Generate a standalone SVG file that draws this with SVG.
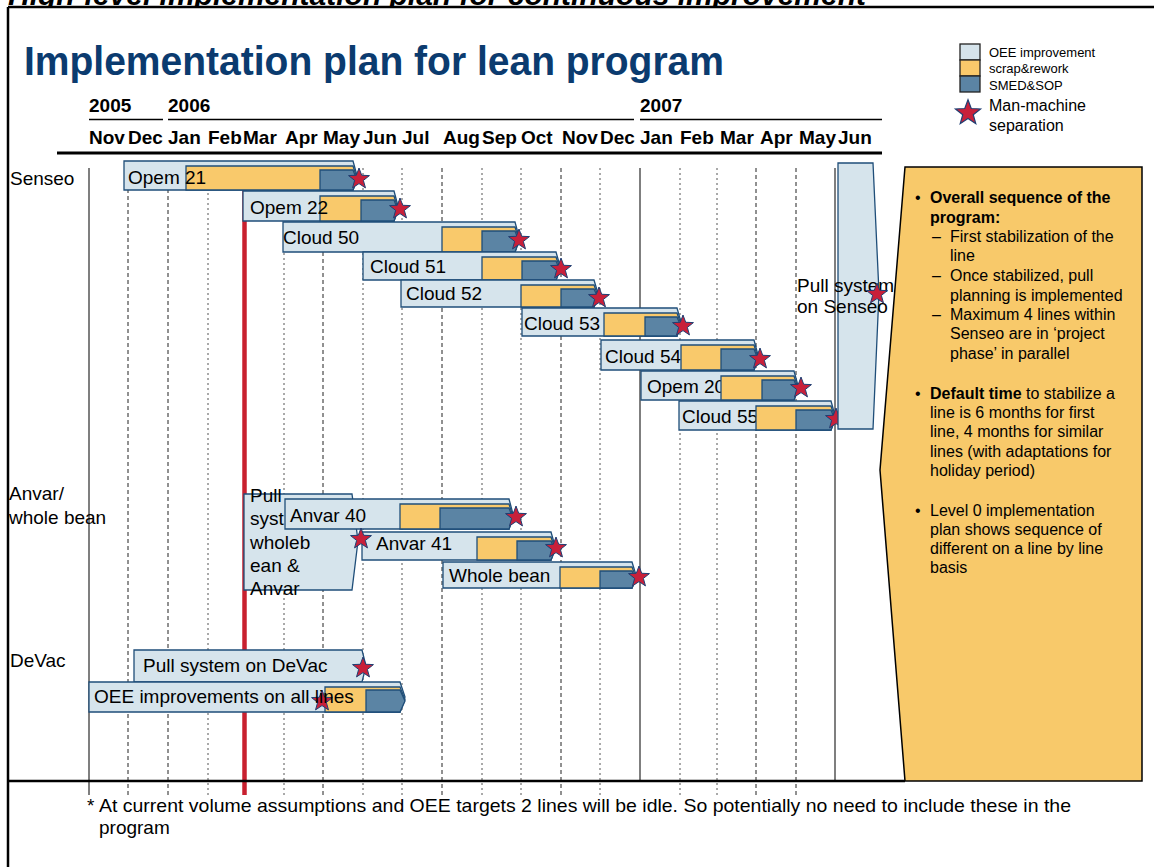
<svg xmlns="http://www.w3.org/2000/svg" xmlns:xlink="http://www.w3.org/1999/xlink" width="1154" height="867" viewBox="0 0 1154 867">
<style>
text{font-family:"Liberation Sans",Arial,sans-serif;fill:#000}
.lb{fill:#d6e4ec;stroke:#1f4e79;stroke-width:1.3}
.yl{fill:#f9c96b;stroke:#1f4e79;stroke-width:1.3}
.bl{fill:#5b84a4;stroke:#1f4e79;stroke-width:1.3}
.lbl{font-size:19px}
.hdr{font-size:19px;font-weight:bold}
.g1{stroke:#555;stroke-width:1;stroke-dasharray:2 3}
.g2{stroke:#222;stroke-width:1;stroke-dasharray:4 3}
.sol{stroke:#555;stroke-width:1.5}
.box{font-size:16px}
</style>
<defs>
<path id="star" d="M0,-11 L2.7,-3.72 L10.46,-3.4 L4.37,1.42 L6.47,8.9 L0,4.6 L-6.47,8.9 L-4.37,1.42 L-10.46,-3.4 L-2.7,-3.72 Z" fill="#c8203a" stroke="#1f3f73" stroke-width="1"/>
</defs>
<rect width="1154" height="867" fill="#fff"/>
<text x="8" y="5" font-size="30" font-weight="bold" font-style="italic" textLength="858" lengthAdjust="spacingAndGlyphs">High-level implementation plan for continuous improvement</text>
<rect x="8" y="7" width="1146" height="860" fill="#fff"/>
<g id="frame" fill="none" stroke="#000" stroke-width="2.5">
<line x1="8" y1="7" x2="1154" y2="7"/>
<line x1="8" y1="7" x2="8" y2="867"/>
</g>
<g id="title">
<text x="24" y="75" font-size="40" font-weight="bold" style="fill:#0b3b6f" textLength="700" lengthAdjust="spacingAndGlyphs">Implementation plan for lean program</text>
</g>
<g id="legend">
<rect x="960" y="44" width="20" height="16" class="lb" style="stroke:#222"/>
<rect x="960" y="60" width="20" height="16" class="yl" style="stroke:#222"/>
<rect x="960" y="76" width="20" height="16" class="bl" style="stroke:#222"/>
<text x="989" y="57" font-size="13">OEE improvement</text>
<text x="989" y="73" font-size="13">scrap&amp;rework</text>
<text x="989" y="90" font-size="13">SMED&amp;SOP</text>
<use xlink:href="#star" transform="translate(968,113) scale(1.2)"/>
<text x="989" y="111" font-size="16">Man-machine</text>
<text x="989" y="131" font-size="16">separation</text>
</g>
<g id="timeline-header">
<text x="89" y="112" class="hdr">2005</text>
<text x="168" y="112" class="hdr">2006</text>
<text x="640" y="112" class="hdr">2007</text>
<line x1="89" y1="119.5" x2="163" y2="119.5" stroke="#000" stroke-width="1.5"/>
<line x1="168" y1="119.5" x2="634" y2="119.5" stroke="#000" stroke-width="1.5"/>
<line x1="640" y1="119.5" x2="882" y2="119.5" stroke="#000" stroke-width="1.5"/>
<text y="144" class="hdr"><tspan x="89">Nov</tspan><tspan x="128">Dec</tspan><tspan x="168">Jan</tspan><tspan x="208">Feb</tspan><tspan x="243">Mar</tspan><tspan x="285">Apr</tspan><tspan x="323">May</tspan><tspan x="363">Jun</tspan><tspan x="402">Jul</tspan><tspan x="443">Aug</tspan><tspan x="482">Sep</tspan><tspan x="521">Oct</tspan><tspan x="562">Nov</tspan><tspan x="600">Dec</tspan><tspan x="640">Jan</tspan><tspan x="680">Feb</tspan><tspan x="720">Mar</tspan><tspan x="760">Apr</tspan><tspan x="799">May</tspan><tspan x="838">Jun</tspan></text>
<line x1="57" y1="153" x2="882" y2="153" stroke="#000" stroke-width="3"/>
</g>
<g id="grid">
<line x1="89" y1="168" x2="89" y2="795" class="sol"/>
<line x1="128" y1="168" x2="128" y2="795" class="g2"/>
<line x1="168" y1="168" x2="168" y2="795" class="g2"/>
<line x1="208" y1="168" x2="208" y2="795" class="g1"/>
<line x1="284" y1="168" x2="284" y2="795" class="g1"/>
<line x1="323" y1="168" x2="323" y2="795" class="g2"/>
<line x1="363" y1="168" x2="363" y2="795" class="g1"/>
<line x1="402" y1="168" x2="402" y2="795" class="g1"/>
<line x1="442" y1="168" x2="442" y2="795" class="g2"/>
<line x1="482" y1="168" x2="482" y2="795" class="g1"/>
<line x1="521" y1="168" x2="521" y2="795" class="g1"/>
<line x1="561" y1="168" x2="561" y2="795" class="g2"/>
<line x1="600" y1="168" x2="600" y2="795" class="g1"/>
<line x1="640" y1="168" x2="640" y2="781" class="sol"/>
<line x1="680" y1="168" x2="680" y2="795" class="g1"/>
<line x1="717" y1="168" x2="717" y2="795" class="g1"/>
<line x1="756" y1="168" x2="756" y2="795" class="g2"/>
<line x1="796" y1="168" x2="796" y2="795" class="g2"/>
<line x1="835" y1="168" x2="835" y2="781" class="sol"/>
<line x1="244.5" y1="170" x2="244.5" y2="795" stroke="#c8202f" stroke-width="4.5"/>
<line x1="8" y1="781" x2="905" y2="781" stroke="#000" stroke-width="2.5"/>
</g>
<g id="connectors"></g>
<g id="row-labels">
<text x="10" y="185" class="lbl">Senseo</text>
<text x="9" y="500" class="lbl">Anvar/</text>
<text x="9" y="524" class="lbl">whole bean</text>
<text x="10" y="667" class="lbl">DeVac</text>
</g>
<g id="opem21">
<polygon class="lb" points="124,161 353,161 357,175.5 353,190 124,190"/>
<polygon class="yl" points="186,166 353,166 357,178 353,190 186,190"/>
<polygon class="bl" points="320,170 353,170 357,180 353,190 320,190"/>
<text x="128" y="184" class="lbl">Opem 21</text>
<use xlink:href="#star" x="359" y="179"/>
</g>
<g id="opem22">
<polygon class="lb" points="243,191 394,191 398,206 394,221 243,221"/>
<polygon class="yl" points="320,196 394,196 398,208.5 394,221 320,221"/>
<polygon class="bl" points="361,200 394,200 398,210.5 394,221 361,221"/>
<text x="250" y="214" class="lbl">Opem 22</text>
<use xlink:href="#star" x="400" y="209"/>
</g>
<g id="cloud50">
<polygon class="lb" points="283,222 515,222 519,237 515,252 283,252"/>
<polygon class="yl" points="442,227 515,227 519,239.5 515,252 442,252"/>
<polygon class="bl" points="482,231 515,231 519,241.5 515,252 482,252"/>
<text x="283" y="244" class="lbl">Cloud 50</text>
<use xlink:href="#star" x="519" y="240"/>
</g>
<g id="cloud51">
<polygon class="lb" points="363,252 556,252 560,266 556,280 363,280"/>
<polygon class="yl" points="482,257 556,257 560,268.5 556,280 482,280"/>
<polygon class="bl" points="522,261 556,261 560,270.5 556,280 522,280"/>
<text x="370" y="273" class="lbl">Cloud 51</text>
<use xlink:href="#star" x="561" y="269"/>
</g>
<g id="cloud52">
<polygon class="lb" points="401,280 594,280 598,293.5 594,307 401,307"/>
<polygon class="yl" points="521,285 594,285 598,296 594,307 521,307"/>
<polygon class="bl" points="561,289 594,289 598,298 594,307 561,307"/>
<text x="406" y="300" class="lbl">Cloud 52</text>
<use xlink:href="#star" x="599" y="298"/>
</g>
<g id="cloud53">
<polygon class="lb" points="522,308 677,308 681,322 677,336 522,336"/>
<text x="524" y="330" class="lbl">Cloud 53</text>
<polygon class="yl" points="604,313 677,313 681,324.5 677,336 604,336"/>
<polygon class="bl" points="645,317 677,317 681,326.5 677,336 645,336"/>
<use xlink:href="#star" x="683" y="326"/>
</g>
<g id="cloud54">
<polygon class="lb" points="601,340 754,340 758,355 754,370 601,370"/>
<text x="605" y="363" class="lbl">Cloud 54</text>
<polygon class="yl" points="681,345 754,345 758,357.5 754,370 681,370"/>
<polygon class="bl" points="721,349 754,349 758,359.5 754,370 721,370"/>
<use xlink:href="#star" x="760" y="359"/>
</g>
<g id="opem20">
<polygon class="lb" points="641,371 794,371 798,385.5 794,400 641,400"/>
<text x="647" y="393" class="lbl">Opem 20</text>
<polygon class="yl" points="721,376 794,376 798,388 794,400 721,400"/>
<polygon class="bl" points="762,380 794,380 798,390 794,400 762,400"/>
<use xlink:href="#star" x="801" y="388"/>
</g>
<g id="cloud55">
<polygon class="lb" points="679,401 831,401 835,415.5 831,430 679,430"/>
<text x="682" y="423" class="lbl">Cloud 55</text>
<polygon class="yl" points="756,406 831,406 835,418 831,430 756,430"/>
<polygon class="bl" points="796,410 831,410 835,420 831,430 796,430"/>
<use xlink:href="#star" x="836" y="419"/>
</g>
<g id="pull-senseo">
<polygon class="lb" points="838,163 873,163 879,293 873,429 838,429"/>
<text x="797" y="292" class="lbl">Pull system</text>
<text x="797" y="313" class="lbl">on Senseo</text>
<use xlink:href="#star" x="877" y="294"/>
</g>
<g id="pull-wholebean">
<polygon class="lb" points="244,494 352,494 358,541 352,590 244,590"/>
<text x="250" class="lbl"><tspan x="250" y="502">Pull</tspan><tspan x="250" y="525">syst</tspan><tspan x="250" y="549">wholeb</tspan><tspan x="250" y="572">ean &amp;</tspan><tspan x="250" y="595">Anvar</tspan></text>
</g>
<g id="anvar40">
<polygon class="lb" points="285,499 509,499 513,514 509,529 285,529"/>
<polygon class="yl" points="400,504 509,504 513,516.5 509,529 400,529"/>
<polygon class="bl" points="440,508 509,508 513,518.5 509,529 440,529"/>
<text x="290" y="522" class="lbl">Anvar 40</text>
<use xlink:href="#star" x="516" y="517"/>
</g>
<g id="anvar41">
<polygon class="lb" points="362,532 551,532 555,546 551,560 362,560"/>
<polygon class="yl" points="477,537 551,537 555,548.5 551,560 477,560"/>
<polygon class="bl" points="517,541 551,541 555,550.5 551,560 517,560"/>
<text x="376" y="550" class="lbl">Anvar 41</text>
<use xlink:href="#star" x="556" y="548"/>
</g>
<g id="wholebean">
<polygon class="lb" points="443,562 632,562 636,575 632,588 443,588"/>
<polygon class="yl" points="560,567 632,567 636,577.5 632,588 560,588"/>
<polygon class="bl" points="600,571 632,571 636,579.5 632,588 600,588"/>
<text x="449" y="582" class="lbl">Whole bean</text>
<use xlink:href="#star" x="639" y="577"/>
</g>
<use xlink:href="#star" x="361" y="539"/>
<g id="pull-devac">
<polygon class="lb" points="134,650 362,650 366,666 362,682 134,682"/>
<text x="143" y="672" class="lbl">Pull system on DeVac</text>
<use xlink:href="#star" x="363" y="668"/>
</g>
<g id="oee-all-lines">
<polygon class="lb" points="89,682 400,682 405,697 400,712 89,712"/>
<polygon class="yl" points="325,687 400,687 405,699.5 400,712 325,712"/>
<polygon class="bl" points="366,690 400,690 405,701 400,712 366,712"/>
<use xlink:href="#star" x="322" y="701"/>
<text x="94" y="703" class="lbl">OEE improvements on all lines</text>
</g>
<g id="notes-box">
<polygon points="905,167 1142,167 1142,781 905,781 880,470" fill="#f8c96a" stroke="#000" stroke-width="1.5"/>
<text x="915" y="203" class="box">•</text>
<text x="930" y="203" class="box" font-weight="bold">Overall sequence of the</text>
<text x="930" y="223" class="box" font-weight="bold">program:</text>
<text x="932" y="242" class="box">–</text>
<text x="950" y="242" class="box">First stabilization of the</text>
<text x="950" y="261" class="box">line</text>
<text x="932" y="281" class="box">–</text>
<text x="950" y="281" class="box">Once stabilized, pull</text>
<text x="950" y="301" class="box">planning is implemented</text>
<text x="932" y="320" class="box">–</text>
<text x="950" y="320" class="box">Maximum 4 lines within</text>
<text x="950" y="339" class="box">Senseo are in ‘project</text>
<text x="950" y="359" class="box">phase’ in parallel</text>
<text x="915" y="399" class="box">•</text>
<text x="930" y="399" class="box"><tspan font-weight="bold">Default time</tspan> to stabilize a</text>
<text x="930" y="418" class="box">line is 6 months for first</text>
<text x="930" y="437" class="box">line, 4 months for similar</text>
<text x="930" y="457" class="box">lines (with adaptations for</text>
<text x="930" y="476" class="box">holiday period)</text>
<text x="915" y="516" class="box">•</text>
<text x="930" y="516" class="box">Level 0 implementation</text>
<text x="930" y="535" class="box">plan shows sequence of</text>
<text x="930" y="554" class="box">different on a line by line</text>
<text x="930" y="573" class="box">basis</text>
</g>
<g id="footnote">
<text x="87" y="812" class="lbl">*</text>
<text x="99" y="812" class="lbl" textLength="972" lengthAdjust="spacingAndGlyphs">At current volume assumptions and OEE targets 2 lines will be idle. So potentially no need to include these in the</text>
<text x="99" y="834" class="lbl">program</text>
</g>
</svg>
